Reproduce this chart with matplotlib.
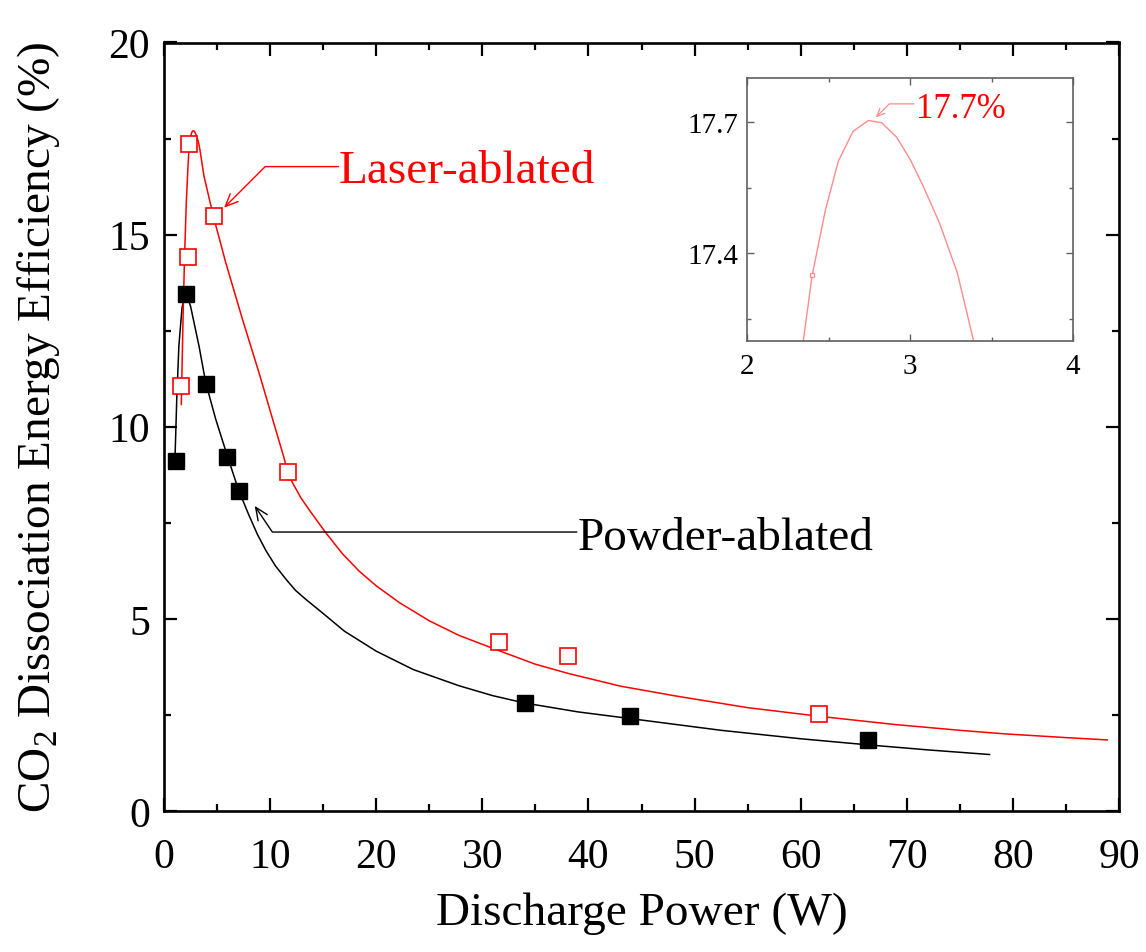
import matplotlib
matplotlib.use("Agg")
import matplotlib.pyplot as plt
from matplotlib.ticker import MultipleLocator

plt.rcParams['font.family'] = ['Liberation Serif', 'DejaVu Serif']
plt.rcParams['mathtext.fontset'] = 'custom'
plt.rcParams['mathtext.rm'] = 'Liberation Serif'

# measured points
powder_x = [1.1, 2.05, 3.93, 5.97, 7.08, 34.06, 43.9, 66.3]
powder_y = [9.11, 13.45, 11.1, 9.22, 8.32, 2.81, 2.47, 1.85]
laser_x = [1.63, 2.26, 2.40, 4.72, 11.73, 31.6, 38.1, 61.7]
laser_y = [11.06, 14.42, 17.35, 15.48, 8.82, 4.4, 4.03, 2.52]

# fitted curves
powder_fit_x = [1.05, 1.2, 1.4, 1.7, 2.04, 2.5, 3.3, 3.93, 4.87, 5.97, 6.9, 7.08, 8.0,
                8.8, 9.6, 10.5, 11.5, 12.4, 13.4, 15.0, 17.0, 20.0, 23.5, 27.8, 31.0,
                34.0, 39.0, 43.8, 52.5, 60.0, 66.4, 72.0, 77.8]
powder_fit_y = [9.3, 10.7, 12.1, 13.1, 13.5, 13.14, 12.1, 11.15, 10.2, 9.24, 8.46, 8.32, 7.7,
                7.2, 6.78, 6.38, 6.03, 5.74, 5.5, 5.14, 4.68, 4.16, 3.68, 3.26, 3.0,
                2.81, 2.58, 2.41, 2.1, 1.88, 1.72, 1.59, 1.47]
laser_fit_x = [1.63, 1.73, 1.82, 1.94, 2.10, 2.23, 2.345, 2.40, 2.48, 2.56, 2.65, 2.744,
               2.826, 2.918, 3.00, 3.08, 3.18, 3.29, 3.39, 3.77, 4.65, 5.82, 7.39, 8.96,
               10.5, 11.3, 11.63, 12.1, 12.9, 13.7, 15.25, 16.8, 18.4, 20.0, 22.2, 25.0,
               27.8, 31.5, 35.0, 38.1, 43.0, 48.3, 55.0, 61.9, 68.9, 75.0, 79.1, 85.0, 88.9]
laser_fit_y = [10.58, 11.94, 13.14, 14.44, 15.83, 16.6, 17.2, 17.35, 17.497, 17.61, 17.678, 17.703,
               17.698, 17.665, 17.615, 17.554, 17.47, 17.356, 17.2, 16.52, 15.48, 14.27, 12.8, 11.4,
               9.95, 9.2, 8.85, 8.55, 8.15, 7.83, 7.24, 6.70, 6.24, 5.86, 5.42, 4.95,
               4.57, 4.18, 3.82, 3.58, 3.25, 2.99, 2.69, 2.46, 2.25, 2.10, 2.01, 1.91, 1.85]

RED = '#ff0000'

fig = plt.figure(figsize=(11.46, 9.53), dpi=100)
ax = fig.add_axes([164 / 1146, 1 - 812 / 953, 955 / 1146, 768.5 / 953])

ax.plot(powder_fit_x, powder_fit_y, color='black', lw=1.1, zorder=2)
ax.plot(laser_fit_x, laser_fit_y, color=RED, lw=1.1, zorder=2)
ax.plot(powder_x, powder_y, 's', color='black', ms=12, mec='black', zorder=3)
ax.plot(laser_x, laser_y, 's', mfc='white', mec=RED, mew=1.2, ms=11.5, zorder=3)

ax.set_xlim(0, 90)
ax.set_ylim(0, 20)
ax.xaxis.set_major_locator(MultipleLocator(10))
ax.xaxis.set_minor_locator(MultipleLocator(5))
ax.yaxis.set_major_locator(MultipleLocator(5))
ax.yaxis.set_minor_locator(MultipleLocator(2.5))
ax.tick_params(which='both', direction='in', top=True, right=True, width=1.6)
ax.tick_params(which='major', length=9.5, labelsize=30)
ax.tick_params(axis='x', which='major', pad=19)
ax.tick_params(axis='y', which='major', pad=10)
ax.tick_params(which='minor', length=5)
for s in ax.spines.values():
    s.set_linewidth(1.9)

ax.set_xlabel('Discharge Power (W)', fontsize=34)
ax.set_ylabel('CO$_2$ Dissociation Energy Efficiency (%)', fontsize=34)
ax.xaxis.set_label_coords(0.5, -0.105)
ax.yaxis.set_label_coords(-0.107, 0.5)

arrow = dict(arrowstyle='->,head_length=0.5,head_width=0.22', lw=1.0,
             shrinkA=0, shrinkB=0, mutation_scale=18)
ax.annotate('', xy=(5.66, 15.7), xytext=(16.45, 16.77),
            arrowprops=dict(arrow, color=RED, connectionstyle='angle,angleA=0,angleB=45,rad=0'))
ax.text(16.5, 16.38, 'Laser-ablated', color=RED, fontsize=34, ha='left', va='baseline')
ax.annotate('', xy=(8.55, 7.94), xytext=(38.9, 7.26),
            arrowprops=dict(arrow, color='black', connectionstyle='angle,angleA=0,angleB=124,rad=0'))
ax.text(38.95, 6.81, 'Powder-ablated', color='black', fontsize=34, ha='left', va='baseline')

# inset zoom on the peak
ins = fig.add_axes([747 / 1146, 1 - 342 / 953, 326 / 1146, 263 / 953])
INS_RED = '#ff8c8c'
ins.plot(laser_fit_x, laser_fit_y, color=INS_RED, lw=1.0)
ins.plot(laser_x, laser_y, 's', mfc='white', mec=INS_RED, mew=0.9, ms=3.5)
ins.set_xlim(2, 4)
ins.set_ylim(17.2, 17.8)
ins.xaxis.set_major_locator(MultipleLocator(1))
ins.xaxis.set_minor_locator(MultipleLocator(0.5))
ins.yaxis.set_major_locator(MultipleLocator(0.3))
ins.yaxis.set_minor_locator(MultipleLocator(0.15))
ins.tick_params(which='both', direction='in', top=True, right=True, color='#606060', width=1.0)
ins.tick_params(which='major', length=5, labelsize=21)
ins.tick_params(axis='x', which='major', pad=9)
ins.tick_params(axis='y', which='major', pad=6)
ins.tick_params(which='minor', length=3)
for s in ins.spines.values():
    s.set_linewidth(1.2)
    s.set_color('#606060')
ins.annotate('', xy=(2.79, 17.71), xytext=(3.025, 17.741),
             arrowprops=dict(arrowstyle='->,head_length=0.4,head_width=0.18', lw=0.9, color=INS_RED,
                             shrinkA=0, shrinkB=0, mutation_scale=14,
                             connectionstyle='angle,angleA=0,angleB=45,rad=0'))
ins.text(3.035, 17.712, '17.7%', color=RED, fontsize=25, ha='left', va='baseline')

fig.savefig('out.png', dpi=100)
